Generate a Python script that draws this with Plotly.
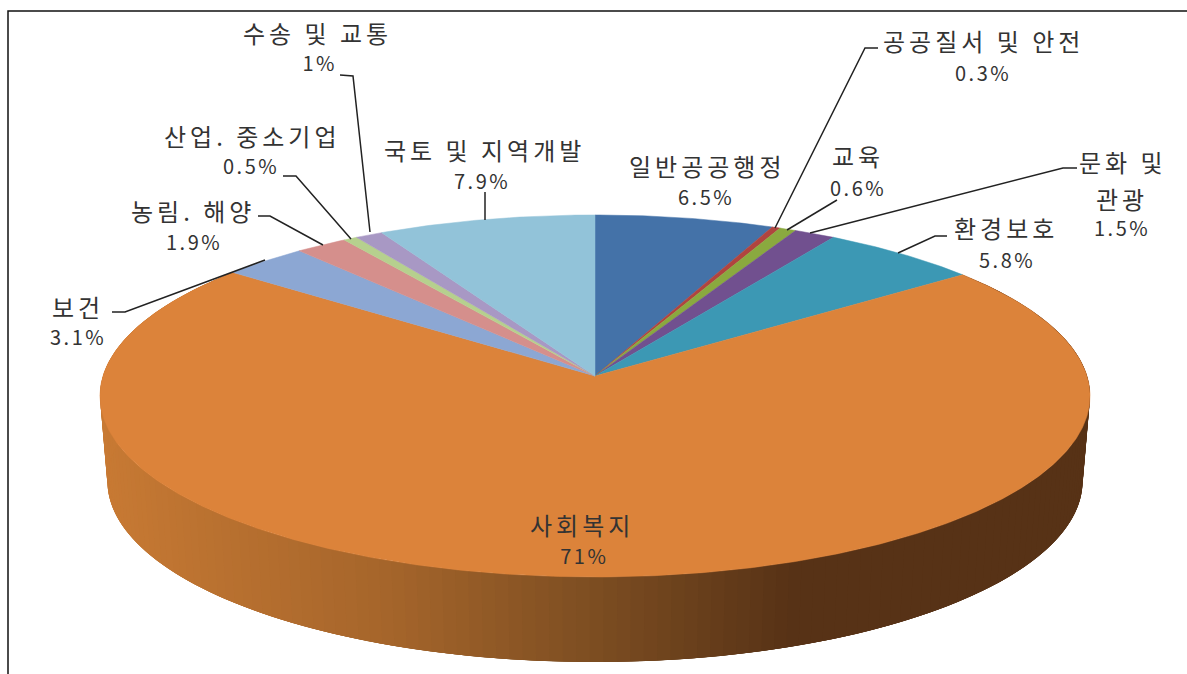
import numpy as np
import plotly.graph_objects as go

categories = ["일반공공행정", "공공질서 및 안전", "교육", "문화 및 관광", "환경보호", "사회복지",
              "보건", "농림. 해양", "산업. 중소기업", "수송 및 교통", "국토 및 지역개발"]
values = [6.5, 0.3, 0.6, 1.5, 5.8, 71, 3.1, 1.9, 0.5, 1, 7.9]
colors = ["#4472a8", "#b0443f", "#8aa93f", "#71508f", "#3c98b4", "#dc833a",
          "#8ca7d3", "#d58f8c", "#b6d08e", "#a898c4", "#92c3d9"]

W, H = 1187, 674
CX, CY = 595, 376      # apex of the pie on the page
AX, BY, K = 492, 178.8, 0.1104   # perspective tilt of the disc
DEPTH, BOTTOM_SCALE = 85, 0.985
FONT = "Noto Sans CJK KR"
TEXT = "#333333"


def project(theta, depth=0.0, xs=1.0):
    u, v = np.sin(theta), np.cos(theta)
    w = 1 + K * v
    return CX + xs * AX * u / w, CY + depth - BY * v / w


vals = np.array(values, dtype=float)
edges = np.concatenate([[0], np.cumsum(vals)]) / vals.sum() * 2 * np.pi

fig = go.Figure()


def side_colour(x):
    xp = [105, 400, 600, 800]
    return "rgb(%d,%d,%d)" % (np.interp(x, xp, [200, 165, 125, 87]),
                              np.interp(x, xp, [122, 101, 78, 50]),
                              np.interp(x, xp, [52, 43, 34, 22]))


# curved wall of the big slice: overlapping strips painted in order, so no seams show
main = categories.index("사회복지")
strip_edges = np.linspace(edges[main], edges[main + 1], 181)
step = strip_edges[1] - strip_edges[0]
for a, b in zip(strip_edges[:-1], strip_edges[1:]):
    t = np.linspace(a, b + 3 * step, 6)
    t = t[t <= edges[main + 1] + 1e-9] if b + 3 * step > edges[main + 1] else t
    x1, y1 = project(t)
    x2, y2 = project(t[::-1], DEPTH, BOTTOM_SCALE)
    c = side_colour((project(a)[0] + project(a, DEPTH, BOTTOM_SCALE)[0]) / 2)
    fig.add_trace(go.Scatter(x=np.r_[x1, x2], y=np.r_[y1, y2], mode="lines", fill="toself",
                             fillcolor=c, line=dict(color=c, width=0),
                             hoverinfo="skip", showlegend=False))

# top face
for i, name in enumerate(categories):
    n = max(int(np.degrees(edges[i + 1] - edges[i])) * 2, 4)
    t = np.linspace(edges[i], edges[i + 1], n)
    x, y = project(t)
    fig.add_trace(go.Scatter(x=np.r_[CX, x, CX], y=np.r_[CY, y, CY], mode="lines", fill="toself",
                             fillcolor=colors[i], line=dict(color=colors[i], width=0.5),
                             name=name, hoverinfo="skip", showlegend=False))

# leader lines
leaders = [
    [(340, 75), (353, 76), (370, 232)],
    [(283, 176), (296, 176), (351, 239)],
    [(258, 216), (270, 216), (323, 245)],
    [(112, 312), (125, 312), (265, 260)],
    [(485, 192), (485, 220)],
    [(878, 48), (865, 48), (775, 228)],
    [(837, 200), (787, 230)],
    [(1077, 168), (1063, 168), (810, 233)],
    [(947, 236), (935, 236), (898, 253)],
]
for seg in leaders:
    fig.add_trace(go.Scatter(x=[p[0] for p in seg], y=[p[1] for p in seg], mode="lines",
                             line=dict(color="#222222", width=1.5),
                             hoverinfo="skip", showlegend=False))

# frame
fig.add_trace(go.Scatter(x=[8, 8, W], y=[H, 11, 11], mode="lines",
                         line=dict(color="#111111", width=1.5),
                         hoverinfo="skip", showlegend=False))

# labels: name lines and percentage line positions
label_pos = {
    "일반공공행정": [("일반공공행정", 707, 165)],
    "공공질서 및 안전": [("공공질서 및 안전", 983, 40)],
    "교육": [("교육", 858, 155)],
    "문화 및 관광": [("문화 및", 1123, 161), ("관광", 1122, 198)],
    "환경보호": [("환경보호", 1006, 227)],
    "사회복지": [("사회복지", 582, 524)],
    "보건": [("보건", 78, 306)],
    "농림. 해양": [("농림. 해양", 193, 210)],
    "산업. 중소기업": [("산업. 중소기업", 252, 135)],
    "수송 및 교통": [("수송 및 교통", 317, 32)],
    "국토 및 지역개발": [("국토 및 지역개발", 484, 149)],
}
pct_pos = [(706, 196), (983, 72), (858, 187), (1122, 227), (1007, 259), (584, 555),
           (78, 336), (194, 241), (251, 165), (320, 62), (482, 180)]

for i, name in enumerate(categories):
    for txt, x, y in label_pos[name]:
        fig.add_annotation(x=x, y=y, text=txt, showarrow=False, xanchor="center", yanchor="middle",
                           font=dict(family=FONT, size=24, color=TEXT))
    x, y = pct_pos[i]
    fig.add_annotation(x=x, y=y, text=f"{values[i]:g}%", showarrow=False, xanchor="center",
                       yanchor="middle", font=dict(family=FONT, size=20, color=TEXT))

fig.update_layout(width=W, height=H, margin=dict(l=0, r=0, t=0, b=0),
                  paper_bgcolor="white", plot_bgcolor="white", showlegend=False,
                  xaxis=dict(range=[0, W], visible=False, fixedrange=True),
                  yaxis=dict(range=[H, 0], visible=False, fixedrange=True))

spacing = """
document.body.style.margin='0';
document.documentElement.style.overflow='hidden';
document.querySelectorAll('.annotation-text').forEach(function(t){
  t.style.letterSpacing = t.textContent.endsWith('%') ? '2.5px' : '4px';
});
"""
fig.write_html("out.html", config={"displayModeBar": False}, post_script=spacing)
